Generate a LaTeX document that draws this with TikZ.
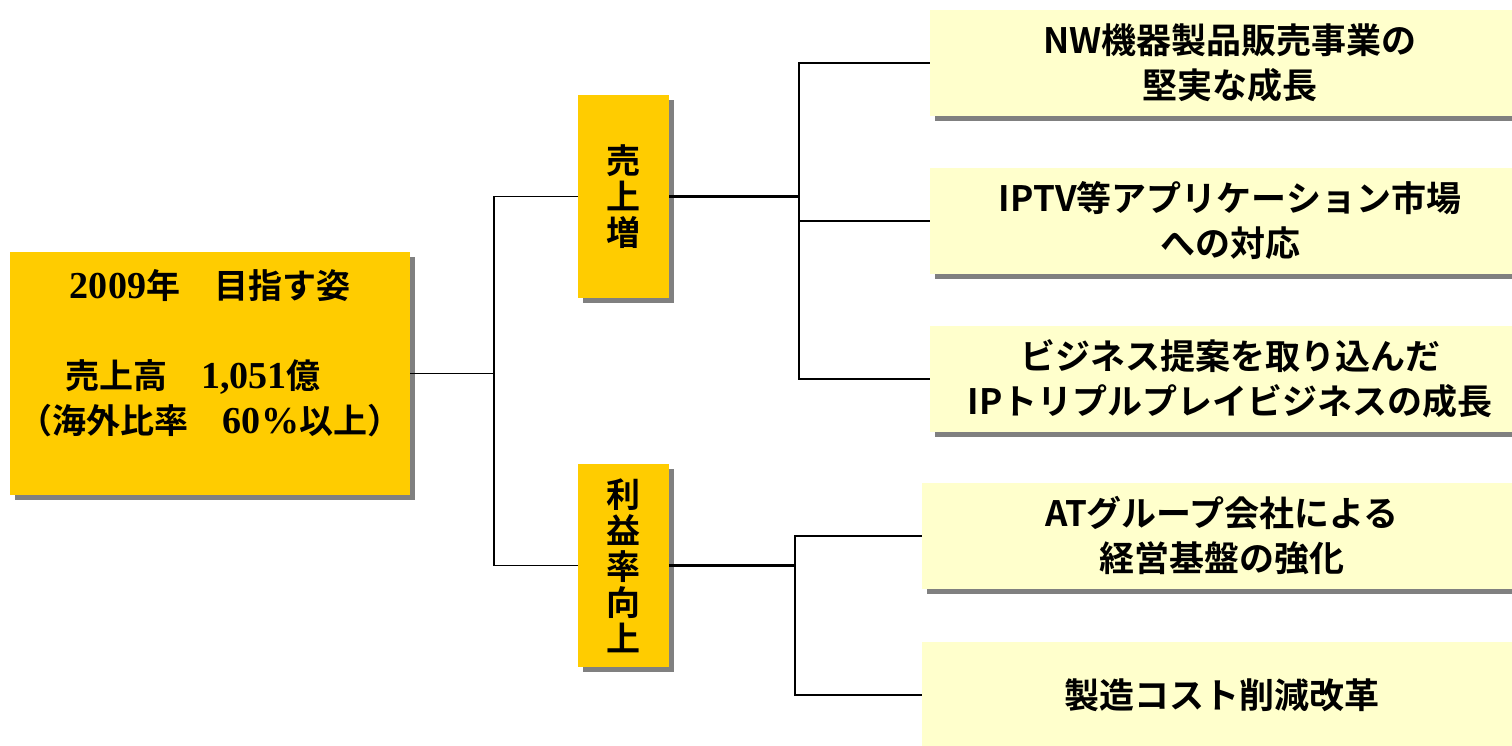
\documentclass[tikz,border=0pt]{standalone}
\usepackage{fontspec}
\setmainfont{Noto Sans CJK JP}[BoldFont={Noto Sans CJK JP Bold}]
\newfontfamily\numfont{Liberation Serif}[Scale=1.12]
\usepackage{xcolor}
\usepackage{tikz}
\usetikzlibrary{shadows}

\definecolor{goalorange}{HTML}{FFCC00}
\definecolor{measureyellow}{HTML}{FFFFCC}
\definecolor{shadowgray}{HTML}{808080}

\begin{document}
\begin{tikzpicture}[x=1pt, y=-1pt]
            \tikzset{
                goal_box/.style={shape = rectangle, fill=goalorange, inner sep=0pt, align=center,
                    general shadow={fill=shadowgray, shadow xshift=5pt, shadow yshift=-5pt},
                    font=\bfseries\fontsize{34}{45}\selectfont},
                axis_box/.style={goal_box, minimum width=91pt, minimum height=203pt,
                    font=\bfseries\fontsize{34}{36}\selectfont},
                measure_box/.style={goal_box, fill=measureyellow, minimum width=600pt, minimum height=106pt,
                    font=\bfseries\fontsize{35}{45}\selectfont},
                thin_link/.style={draw, line width=1.5pt},
                link/.style={draw, line width=2.3pt}
            }
            \useasboundingbox (0,0) rectangle (1512,746);
            \clip (0,0) rectangle (1512,746);

            \node[goal_box, minimum width=400pt, minimum height=243pt] (goal) at (210,373.5)
                {{\numfont 2009}年　目指す姿\\ \mbox{}\\ 売上高　{\numfont 1,051}億　\\（海外比率　{\numfont 60\%}以上）\\ \mbox{}};

            \node[axis_box] (sales) at (623.5,196.5) {売\\上\\増};
            \node[axis_box] (profit) at (623.5,565.5) {利\\益\\率\\向\\上};

            \node[measure_box] (nw) at (1230,63) {NW機器製品販売事業の\\堅実な成長};
            \node[measure_box] (iptv) at (1230,221) {IPTV等アプリケーション市場\\への対応};
            \node[measure_box] (triple) at (1230,379) {ビジネス提案を取り込んだ\\IPトリプルプレイビジネスの成長};
            \node[measure_box] (group) at (1222,536) {ATグループ会社による\\経営基盤の強化};
            \node[measure_box] (cost) at (1222,695) {製造コスト削減改革};

            \coordinate (jA) at (494,373.5);
            \coordinate (jB) at (799,196.5);
            \coordinate (jC) at (795,565.5);

            \path[thin_link] (goal.east) -- (jA);
            \path[thin_link] (sales.west) -| (jA) |- (profit.west);

            \path[link] (sales.east) -- (jB);
            \path[link] (nw.west) -| (jB) |- (triple.west);
            \path[link] (jB) |- (iptv.west);

            \path[link] (profit.east) -- (jC);
            \path[link] (group.west) -| (jC) |- (cost.west);
        \end{tikzpicture}
\end{document}
